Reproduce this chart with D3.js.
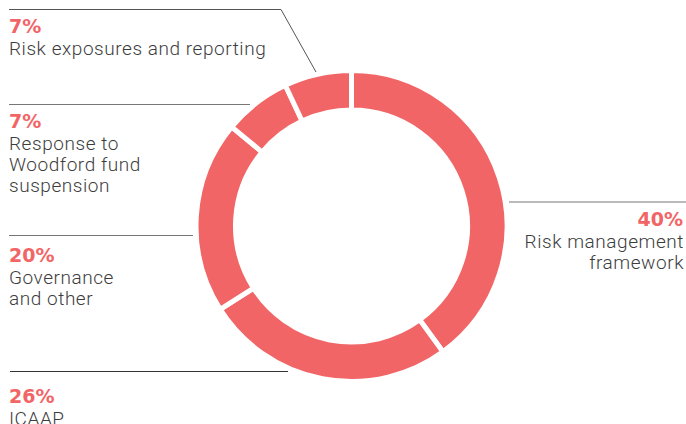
<!DOCTYPE html>
<html>
<head>
<meta charset="utf-8">
<script src="https://cdn.jsdelivr.net/npm/d3@7"></script>
<style>
  body { margin: 0; background: #fff; }
  svg { display: block; }
  .pct { font-family: "DejaVu Sans", sans-serif; font-weight: 700; fill: #f26566; font-size: 19px; }
  .lbl { font-family: Roboto, sans-serif; font-weight: 300; fill: #3d3d3d; font-size: 19px; letter-spacing: 0.55px; }
</style>
</head>
<body>
<div id="chart"></div>
<script>
// slice order, clockwise from 12 o'clock
const categories = ["Risk management framework", "ICAAP", "Governance and other", "Response to Woodford fund suspension", "Risk exposures and reporting"];
const values = [40, 26, 20, 7, 7];
// how each label is broken into lines
const labelLines = [
  ["Risk management", "framework"],
  ["ICAAP"],
  ["Governance", "and other"],
  ["Response to", "Woodford fund", "suspension"],
  ["Risk exposures and reporting"]
];

const width = 686, height = 424;
const cx = 351.5, cy = 226;

const svg = d3.select("#chart")
  .append("svg")
  .attr("width", width)
  .attr("height", height);

const pie = d3.pie().sort(null).value(d => d);
const arc = d3.arc().innerRadius(116).outerRadius(155.5);

svg.append("g")
  .attr("transform", `translate(${cx},${cy})`)
  .selectAll("path")
  .data(pie(values))
  .enter()
  .append("path")
  .attr("d", arc)
  .attr("fill", "#f26566")
  .attr("stroke", "#fff")
  .attr("stroke-width", 5);

// label placement: leader line and text block for each category
const layout = [
  {line: [[509, 202], [686, 202]], x: 684, y: 226, anchor: "end", stroke: "#777"},
  {line: [[10, 371.5], [288, 371.5]], x: 9, y: 403, anchor: "start", stroke: "#333"},
  {line: [[9, 235.5], [193, 235.5]], x: 9, y: 262, anchor: "start", stroke: "#777"},
  {line: [[9, 104.5], [250, 104.5]], x: 9, y: 128, anchor: "start", stroke: "#777"},
  {line: [[9, 9.5], [281, 9.5], [316, 72]], x: 9, y: 33, anchor: "start", stroke: "#555"}
];

const labels = svg.append("g")
  .selectAll("g")
  .data(values.map((v, i) => ({value: v, lines: labelLines[i], pos: layout[i]})))
  .enter()
  .append("g");

labels.append("path")
  .attr("d", d => d3.line()(d.pos.line))
  .attr("fill", "none")
  .attr("stroke", d => d.pos.stroke)
  .attr("stroke-width", 1);

labels.append("text")
  .attr("class", "pct")
  .attr("x", d => d.pos.anchor === "end" ? d.pos.x - 1 : d.pos.x)
  .attr("y", d => d.pos.y)
  .attr("text-anchor", d => d.pos.anchor)
  .text(d => d.value + "%");

labels.each(function(d) {
  d3.select(this).selectAll("text.lbl")
    .data(d.lines)
    .enter()
    .append("text")
    .attr("class", "lbl")
    .attr("x", d.pos.x)
    .attr("y", (t, j) => d.pos.y + 22 + j * 21)
    .attr("text-anchor", d.pos.anchor)
    .text(t => t);
});
</script>
</body>
</html>
